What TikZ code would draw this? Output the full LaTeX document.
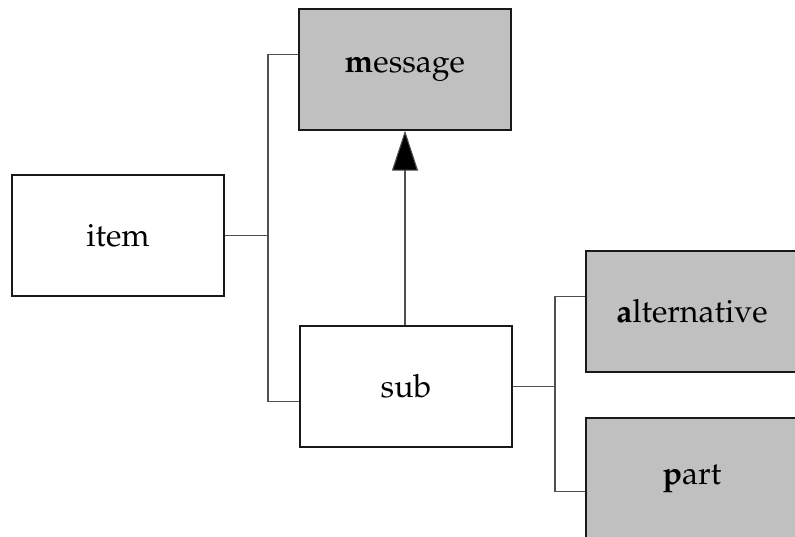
\documentclass[tikz,border=0pt]{standalone}
\usepackage[T1]{fontenc}
\usepackage{mathpazo}
\usetikzlibrary{arrows.meta}
\definecolor{boxgray}{HTML}{C0C0C0}
\definecolor{linegray}{HTML}{505050}
\begin{document}
\begin{tikzpicture}[x=1pt,y=-1pt,
  entity/.style={draw=black!90, line width=1.2pt, minimum width=212pt, minimum height=121pt,
    inner sep=0pt, font=\fontsize{32}{38}\selectfont},
  shaded/.style={entity, fill=boxgray},
  conn/.style={draw=linegray, line width=1.1pt},
  inherit/.style={draw=linegray, line width=1.1pt, -{Triangle[length=40pt,width=26pt,fill=black]}}]
  \useasboundingbox (0,0) rectangle (795,536);
  \clip (0,0) rectangle (795,536);

  % entity boxes
  \node[entity] (item) at (118,235.5) {item};
  \node[shaded] (message) at (405,69.5) {\textbf{m}essage};
  \node[entity] (sub) at (406,386.5) {sub};
  \node[shaded] (alt) at (692,311.5) {\textbf{a}lternative};
  \node[shaded] (part) at (692,478.5) {\textbf{p}art};

  % junctions
  \coordinate (j1) at (268,235.5);
  \coordinate (j2) at (555,386.5);

  % item branches to message and sub
  \draw[conn] (item.east) -- (j1);
  \draw[conn] ([yshift=15pt]message.west) -| (j1) |- ([yshift=-15pt]sub.west);

  % sub branches to alternative and part
  \draw[conn] (sub.east) -- (j2);
  \draw[conn] ([yshift=15pt]alt.west) -| (j2) |- ([yshift=-13pt]part.west);

  % sub specialises message
  \draw[inherit] (sub.north -| 405,0) -- (message.south -| 405,0);
\end{tikzpicture}
\end{document}
